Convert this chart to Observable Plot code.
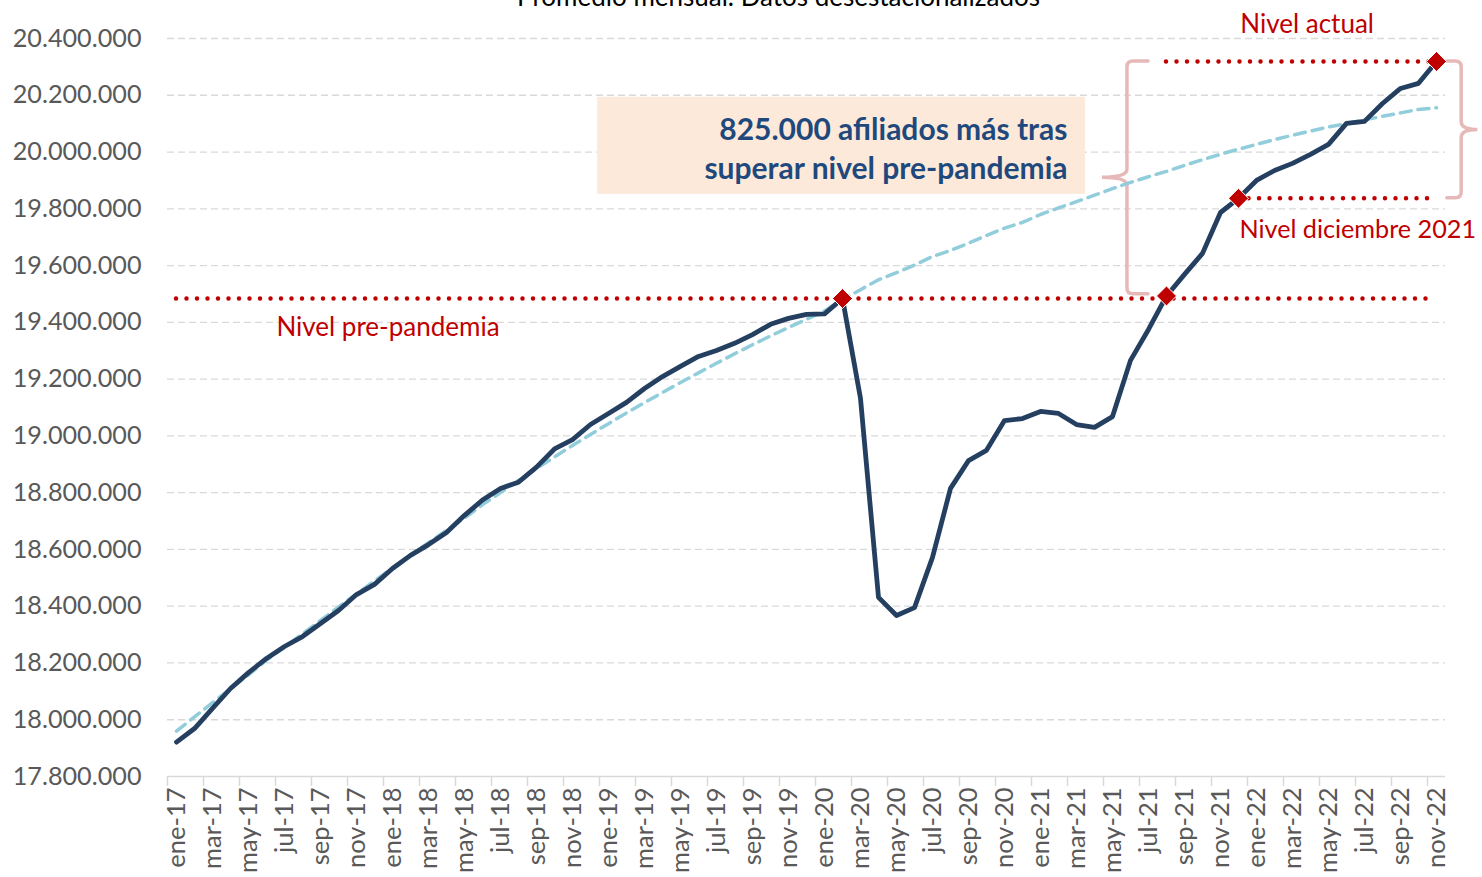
<!DOCTYPE html>
<html><head><meta charset="utf-8">
<script src="https://cdn.jsdelivr.net/npm/d3@7"></script>
<script src="https://cdn.jsdelivr.net/npm/@observablehq/plot@0.6"></script>
<style>
html,body{margin:0;padding:0;background:#fff;overflow:hidden;}
#chart{position:relative;width:1482px;height:877px;}
</style></head><body><div id="chart"></div>
<script>
// ---- Data (thousands of affiliates, monthly average, seasonally adjusted) ----
const monthNames = ["ene","feb","mar","abr","may","jun","jul","ago","sep","oct","nov","dic"];
const years = ["17","18","19","20","21","22"];
const afiliados = [
  17921,17969,18040,18110,18166,18216,18258,18293,18339,18385,18441,18477,
  18533,18579,18617,18660,18720,18774,18815,18837,18890,18954,18987,19040,
  19079,19118,19167,19209,19245,19280,19301,19326,19357,19393,19414,19428,
  19430,19484,19132,18431,18367,18395,18572,18815,18913,18949,19054,19061,
  19086,19079,19040,19030,19068,19266,19375,19493,19569,19643,19787,19837,
  19900,19935,19960,19992,20027,20101,20108,20171,20224,20242,20319
];
const tendencia = [
  17960,18010,18060,18109,18158,18210,18256,18303,18350,18397,18443,18489,
  18535,18580,18624,18667,18710,18758,18800,18843,18885,18926,18966,19005,
  19043,19081,19117,19153,19188,19222,19256,19289,19321,19352,19382,19411,
  19440,19480,19515,19550,19575,19602,19632,19653,19679,19706,19732,19752,
  19780,19803,19825,19848,19871,19893,19913,19932,19953,19973,19992,20010,
  20027,20044,20059,20074,20088,20100,20113,20126,20138,20150,20156
];
const yTicks = [17800000,18000000,18200000,18400000,18600000,18800000,19000000,19200000,19400000,19600000,19800000,20000000,20200000,20400000];
const markedMonths = ["feb-20","ago-21","dic-21","nov-22"];
const titleText = "Promedio mensual. Datos desestacionalizados";
const boxText = "825.000 afiliados más tras\nsuperar nivel pre-pandemia";
const labelPre = "Nivel pre-pandemia";
const labelActual = "Nivel actual";
const labelDic = "Nivel diciembre 2021";

// ---- Build table ----
const months = years.flatMap(y => monthNames.map(m => `${m}-${y}`)).slice(0, afiliados.length);
const data = months.map((m, i) => ({i, m, afil: afiliados[i] * 1000, trend: tendencia[i] * 1000}));
const idx = m => months.indexOf(m);
const val = m => data[idx(m)].afil;
const markers = markedMonths.map(m => data[idx(m)]);

const iPre = idx("feb-20"), iCross = idx("ago-21"), iDic = idx("dic-21"), iLast = idx("nov-22");
const levels = [
  {y: val("feb-20"), x1: 0, x2: iLast},
  {y: val("nov-22"), x1: iCross, x2: iLast},
  {y: val("dic-21"), x1: iDic, x2: iLast - 0.3}
];

const loc = d3.formatLocale({decimal: ",", thousands: ".", grouping: [3], currency: ["", "€"]});
const fmt = loc.format(",d");

const red = "#C00000", navy = "#243F60", lightBlue = "#92CDDC", pink = "#E6B9B8", grey = "#D9D9D9", txt = "#595959";

// brace render mark (pixel-rounded corners), anchored to data values
function brace(xStub, xV, xTip, yTop, yBot) {
  return (index, scales) => {
    const sx = scales.x, sy = scales.y;
    const x0 = sx(xStub), xv = sx(xV), xt = sx(xTip);
    const yT = sy(yTop), yB = sy(yBot), yM = (yT + yB) / 2;
    const s = Math.sign(x0 - xv), r = 6;
    const p = `M${x0},${yT} H${xv + s*r} Q${xv},${yT} ${xv},${yT + r} V${yM - 8} Q${xv},${yM} ${xt},${yM} Q${xv},${yM} ${xv},${yM + 8} V${yB - r} Q${xv},${yB} ${xv + s*r},${yB} H${x0}`;
    const path = document.createElementNS("http://www.w3.org/2000/svg", "path");
    path.setAttribute("d", p);
    path.setAttribute("fill", "none");
    path.setAttribute("stroke", pink);
    path.setAttribute("stroke-width", 3.5);
    path.setAttribute("stroke-linecap", "round");
    return path;
  };
}

const chart = Plot.plot({
  width: 1482, height: 877,
  marginLeft: 167, marginRight: 37, marginTop: 38, marginBottom: 101,
  style: {fontFamily: "Lato, 'Open Sans', sans-serif", fontSize: "25px", background: "#fff", overflow: "visible"},
  x: {domain: [-0.5, iLast + 0.5], axis: null},
  y: {domain: [yTicks[0], yTicks[yTicks.length - 1]], axis: null},
  marks: [
    Plot.ruleY(yTicks.slice(1), {stroke: grey, strokeWidth: 1.3, strokeDasharray: "7 4"}),
    Plot.ruleY([yTicks[0]], {stroke: grey, strokeWidth: 1.6}),
    Plot.axisY(yTicks, {tickSize: 0, tickPadding: 26, tickFormat: fmt, fontSize: 25.2, fill: txt, label: null}),
    Plot.axisX(d3.range(-0.5, iLast, 2), {tickSize: 10, tickFormat: () => "", stroke: grey, strokeWidth: 1.5, label: null}),
    Plot.axisX(d3.range(0, iLast + 1, 2), {tickSize: 0, tickPadding: 11, tickRotate: -90, tickFormat: i => months[i], fontSize: 25.5, fill: txt, label: null}),
    Plot.rect([{x1: 23.4, x2: 50.5, y1: 19851000, y2: 20193000}], {x1: "x1", x2: "x2", y1: "y1", y2: "y2", fill: "#FDE9D9"}),
    Plot.text([boxText], {x: 49.5, y: 20019000, textAnchor: "end", lineAnchor: "middle", lineHeight: 1.32, fontSize: 30, fontWeight: "bold", fill: "#1F497D"}),
    brace(iCross - 1, iCross - 2.17, iCross - 3.56, val("nov-22"), val("feb-20") + 15000),
    brace(iLast + 0.6, iLast + 1.4, iLast + 2.3, val("nov-22"), val("dic-21")),
    Plot.line(data, {x: "i", y: "trend", stroke: lightBlue, strokeWidth: 3.5, strokeDasharray: "11 7"}),
    Plot.line(data, {x: "i", y: "afil", stroke: navy, strokeWidth: 4.8, strokeLinejoin: "round"}),
    Plot.ruleY(levels, {y: "y", x1: "x1", x2: "x2", stroke: red, strokeWidth: 4.5, strokeDasharray: "0 10.5", strokeLinecap: "round"}),
    Plot.dot(markers, {x: "i", y: "afil", symbol: "diamond2", r: 9, fill: red, stroke: "#fff", strokeWidth: 1}),
    Plot.text([labelPre], {x: 5.55, y: 19382000, textAnchor: "start", fontSize: 26, fill: red}),
    Plot.text([labelActual], {x: 59.1, y: 20450000, textAnchor: "start", fontSize: 26, fill: red}),
    Plot.text([labelDic], {x: 59.05, y: 19724000, textAnchor: "start", fontSize: 25.2, fill: red}),
    Plot.text([titleText], {frameAnchor: "top", dx: -28, dy: -33, lineAnchor: "bottom", fontSize: 26, fill: "#000"})
  ]
});
document.getElementById("chart").appendChild(chart);
</script></body></html>
